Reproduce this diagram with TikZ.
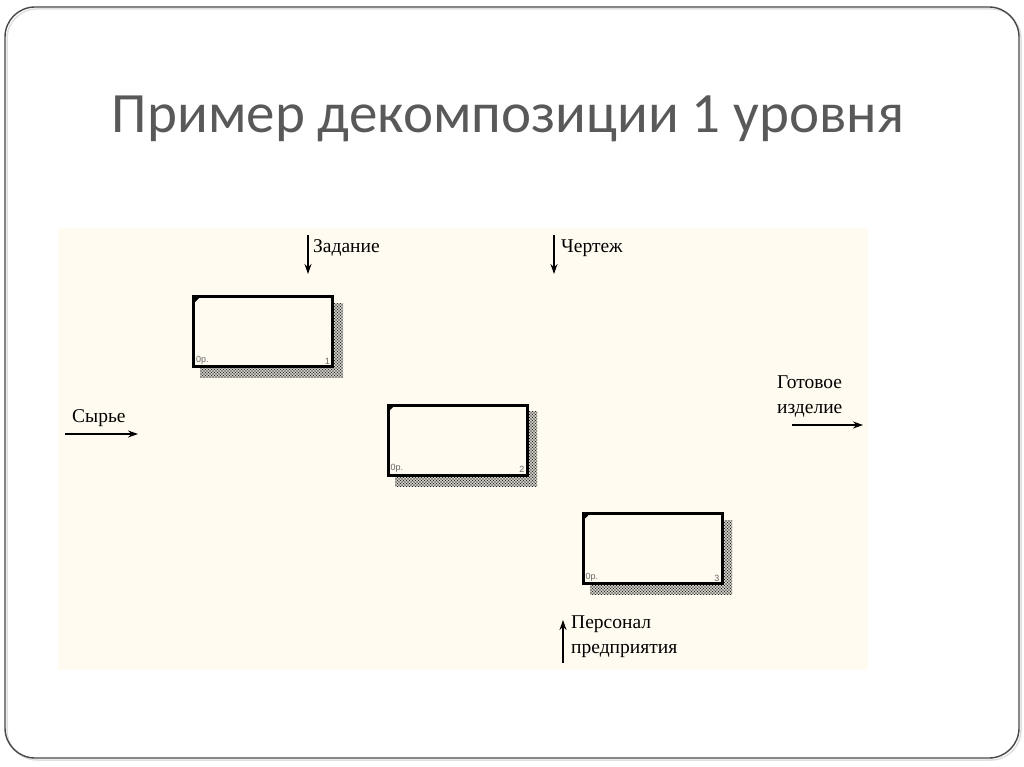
\documentclass[tikz,border=0pt]{standalone}
\usepackage{fontspec}
\setmainfont{Liberation Serif}
\newfontfamily\titlefont{Carlito}
\newfontfamily\tinyfont{Liberation Sans}
\usetikzlibrary{arrows.meta,patterns.meta}
\definecolor{cream}{HTML}{FFFBF0}
\definecolor{titlegray}{HTML}{595959}
\definecolor{framegray}{HTML}{474747}
\tikzset{
  func/.style={draw=black, line width=3pt, fill=cream, minimum width=139pt,
    minimum height=70pt, inner sep=0pt},
  shade a/.style={pattern={Dots[distance=3pt, radius=0.8pt]}, pattern color=black!85, draw=none},
  shade b/.style={pattern={Dots[distance=3pt, radius=0.8pt, xshift=1.5pt, yshift=1.5pt]}, pattern color=black!85, draw=none},
  lbl/.style={font=\fontsize{19.5}{25}\selectfont, inner sep=0pt, anchor=base west, align=left},
  arr/.style={line width=1.3pt, -{Stealth[length=10pt,width=7pt]}},
  corner/.style={fill=black, draw=none},
  tinytxt/.style={font=\tinyfont\fontsize{9}{10}\selectfont, text=black!60, inner sep=0pt},
}
\begin{document}
\begin{tikzpicture}[x=1pt,y=-1pt]
\useasboundingbox (0,0) rectangle (1024,767);
\fill[white] (0,0) rectangle (1024,767);
% slide frame
\draw[black!12, line width=1.5pt, rounded corners=30pt] (7,9) rectangle (1021,760);
\draw[framegray, line width=1.4pt, rounded corners=30pt] (5,7) rectangle (1019,758);
% title
\node[font=\titlefont\fontsize{57}{64}\selectfont, text=titlegray, anchor=base, inner sep=0pt]
  (title) at (508,133) {Пример декомпозиции 1 уровня};
% diagram area
\fill[cream] (58,228) rectangle (868,670);
% shadows
\foreach \x/\y/\u/\v in {200/303/343/377, 395/411/537/486, 590/520/732/594}{
  \fill[shade a] (\x,\y) rectangle (\u,\v);
  \fill[shade b] (\x,\y) rectangle (\u,\v);
}
% function boxes
\node[func] (b1) at (263,331.5) {};
\node[func] (b2) at (457.5,440) {};
\node[func] (b3) at (652.5,548.5) {};
\fill[corner] ([shift={(1.5pt,-1.5pt)}]b1.north west) -- ++(7,0) -- ++(-7,7) -- cycle;
\fill[corner] ([shift={(1.5pt,-1.5pt)}]b2.north west) -- ++(7,0) -- ++(-7,7) -- cycle;
\fill[corner] ([shift={(1.5pt,-1.5pt)}]b3.north west) -- ++(7,0) -- ++(-7,7) -- cycle;
\node[tinytxt, anchor=south west] (c1) at ([shift={(4pt,3.5pt)}]b1.south west) {0р.};
\node[tinytxt, anchor=south west] (c2) at ([shift={(4pt,3.5pt)}]b2.south west) {0р.};
\node[tinytxt, anchor=south west] (c3) at ([shift={(4pt,3.5pt)}]b3.south west) {0р.};
\node[tinytxt, anchor=south east] (n1) at ([shift={(-4pt,3.5pt)}]b1.south east) {1};
\node[tinytxt, anchor=south east] (n2) at ([shift={(-4pt,3.5pt)}]b2.south east) {2};
\node[tinytxt, anchor=south east] (n3) at ([shift={(-4pt,3.5pt)}]b3.south east) {3};
% arrow end points
\coordinate (zadA) at (308,235); \coordinate (zadB) at (308,274);
\coordinate (chA) at (554,235);  \coordinate (chB) at (554,274);
\coordinate (syA) at (65,434);   \coordinate (syB) at (138,434);
\coordinate (gotA) at (792,425); \coordinate (gotB) at (863,425);
\coordinate (perA) at (563,663); \coordinate (perB) at (563,620);
\draw[arr] (zadA) -- (zadB);
\draw[arr] (chA) -- (chB);
\draw[arr] (syA) -- (syB);
\draw[arr] (gotA) -- (gotB);
\draw[arr] (perA) -- (perB);
% labels
\node[lbl] (lzad) at (313,252) {Задание};
\node[lbl] (lch) at (561,252) {Чертеж};
\node[lbl] (lsy) at (72,422) {Сырье};
\node[lbl] (lgot) at (777,413) {Готовое\\изделие};
\node[lbl] (lper) at (571,653) {Персонал\\предприятия};
\end{tikzpicture}
\end{document}
